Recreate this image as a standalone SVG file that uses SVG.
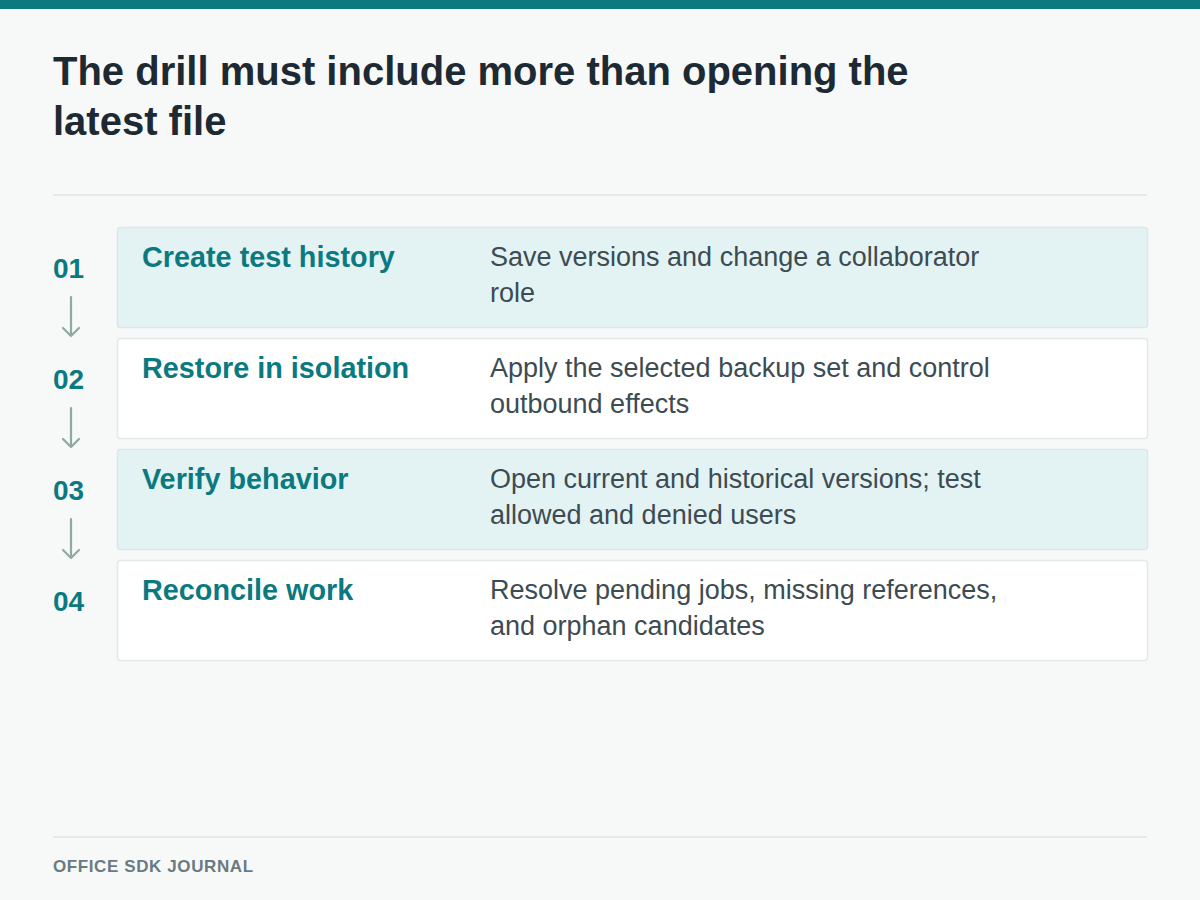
<svg xmlns="http://www.w3.org/2000/svg" width="1200" height="900" viewBox="0 0 1200 900">
  <defs>
    <style>
      .title { font-family: "Liberation Sans", Arial, sans-serif; font-weight: bold; font-size: 40px; fill: #1e2a33; }
      .num { font-family: "Liberation Sans", Arial, sans-serif; font-weight: bold; font-size: 28px; fill: #0b7a80; }
      .ctitle { font-family: "Liberation Sans", Arial, sans-serif; font-weight: bold; font-size: 28.8px; fill: #0b7a80; }
      .desc { font-family: "Liberation Sans", Arial, sans-serif; font-size: 27px; fill: #3d4b52; }
      .foot { font-family: "Liberation Sans", Arial, sans-serif; font-weight: bold; font-size: 17px; fill: #6b7a80; letter-spacing: 0.6px; }
      .tint { fill: #e3f3f4; stroke: #d9e7e7; stroke-width: 1.5; }
      .plain { fill: #ffffff; stroke: #e3e8e8; stroke-width: 1.5; }
      .rule { stroke: #e5e9e9; stroke-width: 2; }
      .arrow { stroke: #8fa9a3; stroke-width: 2.2; fill: none; stroke-linecap: round; stroke-linejoin: round; }
    </style>
  </defs>
  <rect x="0" y="0" width="1200" height="900" fill="#f7f9f9"/>
  <rect x="0" y="0" width="1200" height="9" fill="#0b7a80"/>
  <text class="title" x="53" y="85">The drill must include more than opening the</text>
  <text class="title" x="53" y="135">latest file</text>
  <line class="rule" x1="53" y1="195" x2="1147" y2="195"/>

  <g id="connectors">
    <path class="arrow" d="M71 297 V336 M63 328 L71 336 L79 328"/>
    <path class="arrow" d="M71 408 V447 M63 439 L71 447 L79 439"/>
    <path class="arrow" d="M71 519 V558 M63 550 L71 558 L79 550"/>
  </g>

  <g id="step1">
    <rect class="tint" x="117.5" y="227.5" width="1030" height="100" rx="3"/>
    <text class="num" x="53" y="278">01</text>
    <text class="ctitle" x="142" y="267">Create test history</text>
    <text class="desc" x="490" y="266">Save versions and change a collaborator</text>
    <text class="desc" x="490" y="302">role</text>
  </g>
  <g id="step2">
    <rect class="plain" x="117.5" y="338.5" width="1030" height="100" rx="3"/>
    <text class="num" x="53" y="389">02</text>
    <text class="ctitle" x="142" y="378">Restore in isolation</text>
    <text class="desc" x="490" y="377">Apply the selected backup set and control</text>
    <text class="desc" x="490" y="413">outbound effects</text>
  </g>
  <g id="step3">
    <rect class="tint" x="117.5" y="449.5" width="1030" height="100" rx="3"/>
    <text class="num" x="53" y="500">03</text>
    <text class="ctitle" x="142" y="489">Verify behavior</text>
    <text class="desc" x="490" y="488">Open current and historical versions; test</text>
    <text class="desc" x="490" y="524">allowed and denied users</text>
  </g>
  <g id="step4">
    <rect class="plain" x="117.5" y="560.5" width="1030" height="100" rx="3"/>
    <text class="num" x="53" y="611">04</text>
    <text class="ctitle" x="142" y="600">Reconcile work</text>
    <text class="desc" x="490" y="599">Resolve pending jobs, missing references,</text>
    <text class="desc" x="490" y="635">and orphan candidates</text>
  </g>

  <line class="rule" x1="53" y1="837" x2="1147" y2="837"/>
  <text class="foot" x="53" y="872">OFFICE SDK JOURNAL</text>
</svg>
